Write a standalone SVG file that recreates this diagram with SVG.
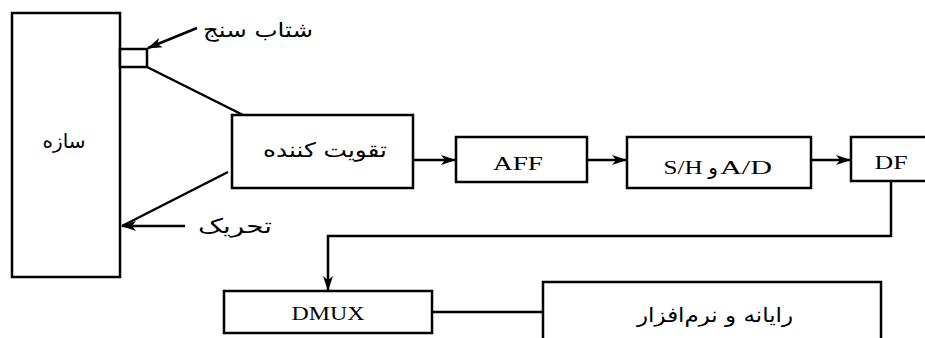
<svg xmlns="http://www.w3.org/2000/svg" width="925" height="338" viewBox="0 0 925 338">
<style>
.box{fill:#fff;stroke:#000;stroke-width:2.5}
.ln{fill:none;stroke:#000;stroke-width:2.5}
.fa{font-family:"DejaVu Sans",sans-serif;font-size:20px;fill:#000;text-anchor:middle}
.en{font-family:"Liberation Serif",serif;font-size:19px;fill:#000;text-anchor:middle}
</style>
<defs>
<marker id="ah" viewBox="0 0 15 10" refX="14" refY="5" markerWidth="15" markerHeight="10" markerUnits="userSpaceOnUse" orient="auto">
<path d="M0,0 L15,5 L0,10 L4,5 z" fill="#000"/>
</marker>
</defs>
<rect width="925" height="338" fill="#fff"/>
<g id="connectors">
<line class="ln" x1="197" y1="28" x2="148" y2="48" marker-end="url(#ah)" stroke-width="3"/>
<line class="ln" x1="147" y1="67" x2="243" y2="115" stroke-width="2"/>
<line class="ln" x1="228" y1="172" x2="122" y2="226" stroke-width="2"/>
<line class="ln" x1="185" y1="226" x2="122" y2="226" marker-end="url(#ah)"/>
<line class="ln" x1="413" y1="160" x2="455" y2="160" marker-end="url(#ah)"/>
<line class="ln" x1="587" y1="160" x2="626" y2="160" marker-end="url(#ah)"/>
<line class="ln" x1="811" y1="160" x2="850" y2="160" marker-end="url(#ah)"/>
<polyline class="ln" points="891,181 891,236 328,236 328,290" marker-end="url(#ah)"/>
<line class="ln" x1="432" y1="312" x2="543" y2="312" stroke-width="2"/>
</g>
<g id="saze">
<rect class="box" x="12" y="13" width="108" height="264"/>
<text class="fa" x="64" y="148" direction="rtl">سازه</text>
</g>
<g id="sensor">
<rect class="box" x="120" y="49" width="27" height="18"/>
<text class="fa" x="258" y="37" direction="rtl" textLength="110" lengthAdjust="spacingAndGlyphs">شتاب سنج</text>
</g>
<g id="excitation">
<text class="fa" x="235" y="233" direction="rtl" textLength="74" lengthAdjust="spacingAndGlyphs">تحریک</text>
</g>
<g id="amplifier">
<rect class="box" x="232" y="115" width="181" height="73"/>
<text class="fa" x="325" y="157" direction="rtl" textLength="124" lengthAdjust="spacingAndGlyphs">تقویت کننده</text>
</g>
<g id="aff">
<rect class="box" x="456" y="137" width="131" height="45"/>
<text class="en" x="518" y="170" textLength="50" lengthAdjust="spacingAndGlyphs">AFF</text>
</g>
<g id="adc">
<rect class="box" x="627" y="137" width="184" height="51"/>
<text class="en" x="683" y="174" textLength="39" lengthAdjust="spacingAndGlyphs">S/H</text>
<text class="fa" x="713" y="174" font-size="18">و</text>
<text class="en" x="746" y="174" textLength="52" lengthAdjust="spacingAndGlyphs">A/D</text>
</g>
<g id="df">
<rect class="box" x="851" y="137" width="82" height="44"/>
<text class="en" x="891" y="169" textLength="33" lengthAdjust="spacingAndGlyphs">DF</text>
</g>
<g id="dmux">
<rect class="box" x="224" y="291" width="208" height="42"/>
<text class="en" x="328" y="320" textLength="73" lengthAdjust="spacingAndGlyphs">DMUX</text>
</g>
<g id="computer">
<rect class="box" x="543" y="282" width="338" height="70"/>
<text class="fa" x="715" y="322" direction="rtl" textLength="156" lengthAdjust="spacingAndGlyphs">رایانه و نرم‌افزار</text>
</g>
</svg>
